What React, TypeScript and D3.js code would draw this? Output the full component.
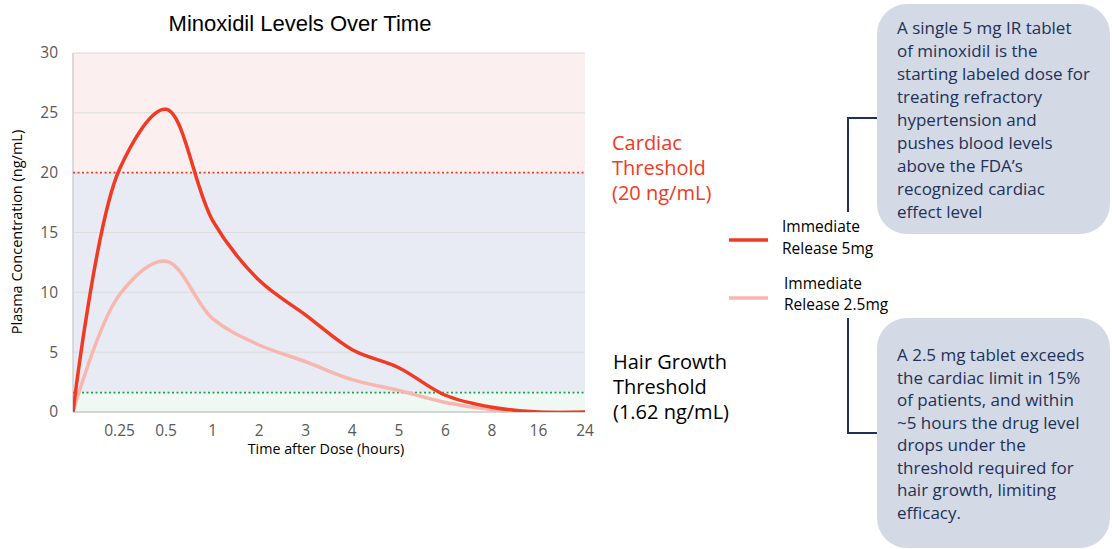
import React from 'react';
import * as d3 from 'd3';

const timeLabels = ['0', '0.25', '0.5', '1', '2', '3', '4', '5', '6', '8', '16', '24'];
const ir5mgValues = [0, 20.3, 25.3, 16.0, 11.0, 8.1, 5.2, 3.7, 1.4, 0.4, 0, 0];
const ir25mgValues = [0, 9.8, 12.6, 7.8, 5.6, 4.2, 2.7, 1.8, 0.8, 0.2, 0, 0];
const yTicks = [0, 5, 10, 15, 20, 25, 30];
const cardiacThreshold = 20;
const hairThreshold = 1.62;

const callout5mg = [
  'A single 5 mg IR tablet',
  'of minoxidil is the',
  'starting labeled dose for',
  'treating refractory',
  'hypertension and',
  'pushes blood levels',
  'above the FDA\u2019s',
  'recognized cardiac',
  'effect level',
];
const callout25mg = [
  'A 2.5 mg tablet exceeds',
  'the cardiac limit in 15%',
  'of patients, and within',
  '~5 hours the drug level',
  'drops under the',
  'threshold required for',
  'hair growth, limiting',
  'efficacy.',
];

const W = 1112;
const H = 549;
const plot = { left: 73, right: 585, top: 53, bottom: 412 };
const titleFont = '"Liberation Sans", Arial, sans-serif';
const font = '"Open Sans", sans-serif';
const navy = '#1f3158';

export default function App() {
  const x = d3.scalePoint<string>().domain(timeLabels).range([plot.left, plot.right]);
  const y = d3.scaleLinear().domain([0, 30]).range([plot.bottom, plot.top]);

  const line = d3
    .line<number>()
    .x((_, i) => x(timeLabels[i]) as number)
    .y((d) => y(d))
    .curve(d3.curveCatmullRom.alpha(0.5));

  const pw = plot.right - plot.left;

  return (
    <div style={{ position: 'fixed', left: 0, top: 0 }}>
      <svg width={W} height={H} style={{ display: 'block', background: '#fff' }}>
        <defs>
          <clipPath id="plotclip">
            <rect x={plot.left} y={plot.top - 5} width={pw + 4} height={plot.bottom - plot.top + 5} />
          </clipPath>
        </defs>

        {/* title */}
        <text x={300} y={31} textAnchor="middle" fontFamily={titleFont} fontSize={22} fill="#000">
          Minoxidil Levels Over Time
        </text>

        {/* background zones */}
        <rect x={plot.left} y={y(30)} width={pw} height={y(cardiacThreshold) - y(30)} fill="#fbf0ef" />
        <rect x={plot.left} y={y(cardiacThreshold)} width={pw} height={y(hairThreshold) - y(cardiacThreshold)} fill="#e8ebf3" />
        <rect x={plot.left} y={y(hairThreshold)} width={pw} height={y(0) - y(hairThreshold)} fill="#eff8f3" />

        {/* gridlines + y ticks */}
        {yTicks.map((t) => (
          <g key={t}>
            {t !== 0 && t !== cardiacThreshold && (
              <line x1={plot.left} x2={plot.right} y1={y(t)} y2={y(t)} stroke="#dcdcdc" strokeWidth={1} />
            )}
            <text x={58} y={y(t)} dy="0.35em" textAnchor="end" fontFamily={font} fontSize={15.5} fill="#595959">
              {t}
            </text>
          </g>
        ))}

        {/* axes */}
        <line x1={plot.left} x2={plot.left} y1={plot.top} y2={plot.bottom} stroke="#d0d0d0" strokeWidth={1.5} />
        <line x1={plot.left} x2={plot.right} y1={plot.bottom} y2={plot.bottom} stroke="#c8c8c8" strokeWidth={1.5} />

        {/* thresholds */}
        <line x1={plot.left} x2={plot.right} y1={y(cardiacThreshold)} y2={y(cardiacThreshold)} stroke="#f03a24" strokeWidth={1.6} strokeDasharray="2 2.5" />
        <line x1={plot.left} x2={plot.right} y1={y(hairThreshold)} y2={y(hairThreshold)} stroke="#1ca64c" strokeWidth={1.6} strokeDasharray="2 2.5" />

        {/* series */}
        <g clipPath="url(#plotclip)">
          <path d={line(ir25mgValues) || ''} fill="none" stroke="#f7b6ae" strokeWidth={3.5} strokeLinejoin="round" />
          <path d={line(ir5mgValues) || ''} fill="none" stroke="#f03a24" strokeWidth={3.5} strokeLinejoin="round" />
        </g>

        {/* x ticks */}
        {timeLabels.slice(1).map((t) => (
          <text key={t} x={x(t) as number} y={436} textAnchor="middle" fontFamily={font} fontSize={15.5} fill="#595959">
            {t}
          </text>
        ))}
        <text x={326} y={454} textAnchor="middle" fontFamily={font} fontSize={14.3} fill="#000">
          Time after Dose (hours)
        </text>
        <text transform={`translate(22,232) rotate(-90)`} textAnchor="middle" fontFamily={font} fontSize={14.5} fill="#000">
          Plasma Concentration (ng/mL)
        </text>

        {/* threshold labels */}
        <g fontFamily={font} fontSize={20} fill="#f03a24">
          <text x={612} y={150}>Cardiac</text>
          <text x={612} y={175}>Threshold</text>
          <text x={612} y={200}>(20 ng/mL)</text>
        </g>
        <g fontFamily={font} fontSize={20} fill="#000">
          <text x={613} y={369}>Hair Growth</text>
          <text x={613} y={394}>Threshold</text>
          <text x={613} y={419}>(1.62 ng/mL)</text>
        </g>

        {/* legend */}
        <line x1={729} x2={768} y1={240} y2={240} stroke="#f03a24" strokeWidth={3.5} />
        <text x={782} y={232} fontFamily={font} fontSize={15.5} fill="#000">Immediate</text>
        <text x={782} y={254} fontFamily={font} fontSize={15.5} fill="#000">Release 5mg</text>
        <line x1={729} x2={768} y1={298} y2={298} stroke="#f7b6ae" strokeWidth={3.5} />
        <text x={784} y={289} fontFamily={font} fontSize={15.5} fill="#000">Immediate</text>
        <text x={784} y={310} fontFamily={font} fontSize={15.5} fill="#000">Release 2.5mg</text>

        {/* connectors */}
        <polyline points="877,118 848,118 848,212" fill="none" stroke={navy} strokeWidth={2} />
        <polyline points="848,318 848,433 877,433" fill="none" stroke={navy} strokeWidth={2} />

        {/* callout boxes */}
        <rect x={877} y={4} width={233} height={230} rx={30} fill="#d3dae6" />
        <g fontFamily={font} fontSize={17} fill={navy}>
          {callout5mg.map((l, i) => (
            <text key={i} x={897} y={34 + i * 23}>{l}</text>
          ))}
        </g>
        <rect x={877} y={318} width={233} height={230} rx={30} fill="#d3dae6" />
        <g fontFamily={font} fontSize={17} fill={navy}>
          {callout25mg.map((l, i) => (
            <text key={i} x={897} y={361 + i * 22.5}>{l}</text>
          ))}
        </g>
      </svg>
    </div>
  );
}
